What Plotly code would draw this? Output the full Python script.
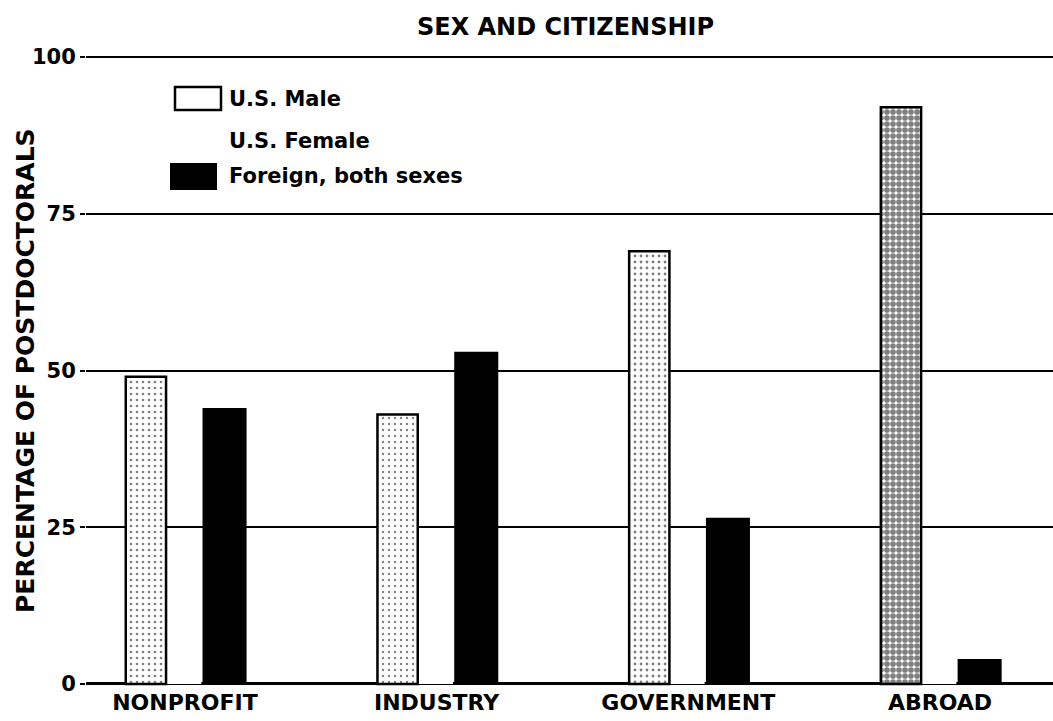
import plotly.graph_objects as go

sectors = ["NONPROFIT", "INDUSTRY", "GOVERNMENT", "ABROAD"]
us_male = [49, 43, 69, 92]
us_female = [7, 4, 4, 4]          # printed in a tint that did not reproduce
foreign = [44, 53, 26.5, 4]
y_ticks = [0, 25, 50, 75, 100]

legend_names = ["U.S. Male", "U.S. Female", "Foreign, both sexes"]

FONT = "DejaVu Sans"

# plot area in pixels, used to place the hand drawn legend and labels
L, R, T, B = 86, 1053, 55, 687
W, H = R - L, B - T


def px(x):
    return (x - L) / W


def py(y):
    return (B - y) / H


fig = go.Figure()

# female bars first so they sit under the male bar outlines
fig.add_trace(go.Bar(
    name=legend_names[1],
    x=sectors,
    y=us_female,
    offset=-0.075,
    width=0.14,
    marker=dict(color="white", line=dict(width=0)),
))
fig.add_trace(go.Bar(
    name=legend_names[0],
    x=sectors,
    y=us_male,
    offset=-0.235,
    width=0.16,
    marker=dict(
        color="white",
        line=dict(color="black", width=2.5),
        pattern=dict(shape=".", fgcolor="black", bgcolor="white",
                     size=6, solidity=[0.16, 0.12, 0.18, 0.7]),
    ),
))
fig.add_trace(go.Bar(
    name=legend_names[2],
    x=sectors,
    y=foreign,
    offset=0.07,
    width=0.175,
    marker=dict(color="black", line=dict(color="black", width=0)),
))

# legend drawn by hand so the swatches keep their printed size
shapes = [
    dict(type="rect", xref="paper", yref="paper",
         x0=px(175), x1=px(221), y0=py(110), y1=py(87),
         fillcolor="white", line=dict(color="black", width=2.5)),
    dict(type="rect", xref="paper", yref="paper",
         x0=px(170), x1=px(217), y0=py(190), y1=py(163),
         fillcolor="black", line=dict(color="black", width=0)),
]
annotations = []
for name, yc in zip(legend_names, [99, 141, 176]):
    annotations.append(dict(
        text=name, xref="paper", yref="paper", x=px(227), y=py(yc),
        xanchor="left", yanchor="middle", showarrow=False,
        font=dict(family=FONT, size=21, color="black", weight="bold"),
    ))

annotations.append(dict(
    text="PERCENTAGE OF POSTDOCTORALS", xref="paper", yref="paper",
    x=px(25), y=py(371), xanchor="center", yanchor="middle",
    textangle=-90, showarrow=False,
    font=dict(family=FONT, size=25, color="black", weight="bold"),
))
annotations.append(dict(
    text="SEX AND CITIZENSHIP", xref="paper", yref="paper",
    x=px(565), y=py(27), xanchor="center", yanchor="middle",
    showarrow=False,
    font=dict(family=FONT, size=24, color="black", weight="bold"),
))

fig.update_layout(
    barmode="overlay",
    showlegend=False,
    width=1053,
    height=721,
    margin=dict(l=L, r=0, t=T, b=721 - B),
    plot_bgcolor="white",
    paper_bgcolor="white",
    font=dict(family=FONT, color="black"),
    shapes=shapes,
    annotations=annotations,
    xaxis=dict(
        range=[-0.393, 3.449],
        showgrid=False,
        showline=False,
        zeroline=False,
        ticks="",
        tickfont=dict(family=FONT, size=22, color="black", weight="bold"),
    ),
    yaxis=dict(
        range=[-0.48, 100.32],
        tickvals=y_ticks,
        ticktext=[str(v) for v in y_ticks],
        showgrid=True,
        gridcolor="black",
        gridwidth=2,
        zeroline=True,
        zerolinecolor="black",
        zerolinewidth=3,
        showline=False,
        ticks="outside",
        ticklen=5,
        tickwidth=2,
        tickcolor="black",
        tickfont=dict(family=FONT, size=21, color="black", weight="bold"),
    ),
)

fig.write_html(
    "out.html",
    config={"displayModeBar": False},
    post_script="document.body.style.margin = '0';",
)
